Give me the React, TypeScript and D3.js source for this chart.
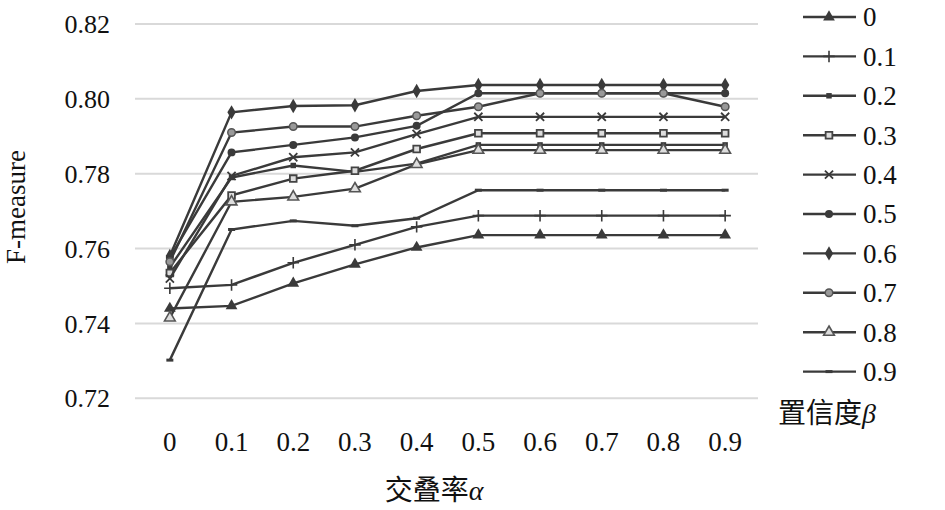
import { useEffect, useRef } from "react";
import * as d3 from "d3";

// overlap rate α (x categories) and confidence β (series)
const ALPHA = ["0", "0.1", "0.2", "0.3", "0.4", "0.5", "0.6", "0.7", "0.8", "0.9"];
const BETA = ["0", "0.1", "0.2", "0.3", "0.4", "0.5", "0.6", "0.7", "0.8", "0.9"];
const Y_TICKS = [0.72, 0.74, 0.76, 0.78, 0.80, 0.82];

const B00 = [0.744, 0.7447, 0.7507, 0.7558, 0.7603, 0.7636, 0.7636, 0.7636, 0.7636, 0.7636];
const B01 = [0.7494, 0.7503, 0.7562, 0.761, 0.7658, 0.7688, 0.7688, 0.7688, 0.7688, 0.7688];
const B02 = [0.755, 0.779, 0.7822, 0.7805, 0.7827, 0.7877, 0.7877, 0.7877, 0.7877, 0.7877];
const B03 = [0.7535, 0.7742, 0.7787, 0.7808, 0.7866, 0.7908, 0.7908, 0.7908, 0.7908, 0.7908];
const B04 = [0.752, 0.7794, 0.7844, 0.7857, 0.7906, 0.7952, 0.7952, 0.7952, 0.7952, 0.7952];
const B05 = [0.7575, 0.7857, 0.7877, 0.7897, 0.7928, 0.8015, 0.8015, 0.8015, 0.8015, 0.8015];
const B06 = [0.758, 0.7964, 0.7981, 0.7983, 0.8021, 0.8037, 0.8037, 0.8037, 0.8037, 0.8037];
const B07 = [0.7565, 0.791, 0.7926, 0.7926, 0.7955, 0.7979, 0.8015, 0.8015, 0.8015, 0.7979];
const B08 = [0.7415, 0.7725, 0.7738, 0.776, 0.7825, 0.7863, 0.7863, 0.7863, 0.7863, 0.7863];
const B09 = [0.7302, 0.7651, 0.7674, 0.7661, 0.7681, 0.7756, 0.7756, 0.7756, 0.7756, 0.7756];
const SERIES = [B00, B01, B02, B03, B04, B05, B06, B07, B08, B09];
const MARKERS = ["tri", "plus", "sq", "sqOpen", "x", "circle", "diamond", "circleOpen", "triOpen", "dash"];

const SERIF = "Liberation Serif, serif";
const CJK = "Noto Sans CJK SC";
const INK = "#3a3a3a";

function marker(g: d3.Selection<SVGGElement, unknown, null, undefined>, kind: string, x: number, y: number) {
  const sym = (type: d3.SymbolType, size: number) => d3.symbol().type(type).size(size)();
  const p = g.append("path").attr("transform", `translate(${x},${y})`);
  switch (kind) {
    case "tri": p.attr("d", sym(d3.symbolTriangle, 60)).attr("fill", INK); break;
    case "plus": p.attr("d", sym(d3.symbolPlus, 45)).attr("fill", "none").attr("stroke", INK).attr("stroke-width", 1.6); break;
    case "sq": p.attr("d", sym(d3.symbolSquare, 30)).attr("fill", INK); break;
    case "sqOpen": p.attr("d", sym(d3.symbolSquare, 45)).attr("fill", "#ddd").attr("stroke", "#444").attr("stroke-width", 1.8); break;
    case "x": p.attr("d", sym(d3.symbolTimes, 45)).attr("fill", "none").attr("stroke", INK).attr("stroke-width", 1.8); break;
    case "circle": p.attr("d", sym(d3.symbolCircle, 50)).attr("fill", INK); break;
    case "diamond": p.attr("d", sym(d3.symbolDiamond, 60)).attr("fill", INK); break;
    case "circleOpen": p.attr("d", sym(d3.symbolCircle, 45)).attr("fill", "#999").attr("stroke", "#555").attr("stroke-width", 1.5); break;
    case "triOpen": p.attr("d", sym(d3.symbolTriangle, 50)).attr("fill", "#ddd").attr("stroke", "#555").attr("stroke-width", 1.6); break;
    case "dash": p.attr("d", "M-3.5,-1.5h7v3h-7z").attr("fill", INK); break;
  }
}

export default function App() {
  const svgRef = useRef<SVGSVGElement>(null);

  useEffect(() => {
    if (!svgRef.current) return;
    const W = 945, H = 510;
    const svg = d3.select(svgRef.current).attr("width", W).attr("height", H);
    svg.selectAll("*").remove();
    svg.append("rect").attr("width", W).attr("height", H).attr("fill", "#fff");

    const x = d3.scaleBand().domain(ALPHA).range([139, 756]).padding(0);
    const cx = (a: string) => x(a)! + x.bandwidth() / 2;
    const y = d3.scaleLinear().domain([0.72, 0.82]).range([398.3, 24]);

    // gridlines + y labels
    Y_TICKS.forEach(t => {
      svg.append("line").attr("x1", 135).attr("x2", 758).attr("y1", y(t)).attr("y2", y(t))
        .attr("stroke", "#d9d9d9").attr("stroke-width", 2);
      svg.append("text").attr("x", 110).attr("y", y(t)).attr("dy", "0.35em").attr("text-anchor", "end")
        .style("font-family", SERIF).attr("font-size", 26).attr("fill", "#111").text(t.toFixed(2));
    });

    // x labels
    ALPHA.forEach(a => {
      svg.append("text").attr("x", cx(a)).attr("y", 451).attr("text-anchor", "middle")
        .style("font-family", SERIF).attr("font-size", 27).attr("fill", "#111").text(a);
    });

    // axis titles
    const xt = svg.append("text").attr("x", 434).attr("y", 500).attr("text-anchor", "middle")
      .attr("font-size", 28).attr("fill", "#111");
    xt.append("tspan").style("font-family", CJK).text("交叠率");
    xt.append("tspan").style("font-family", SERIF).attr("font-style", "italic").text("α");

    svg.append("text").attr("transform", "translate(25,207) rotate(-90)").attr("text-anchor", "middle")
      .style("font-family", SERIF).attr("font-size", 27).attr("fill", "#111").text("F-measure");

    // series
    const line = d3.line<number>().x((_, i) => cx(ALPHA[i])).y(v => y(v));
    const plot = svg.append("g");
    SERIES.forEach((s, k) => {
      plot.append("path").datum(s).attr("d", line).attr("fill", "none")
        .attr("stroke", INK).attr("stroke-width", 2.4);
      s.forEach((v, i) => marker(plot, MARKERS[k], cx(ALPHA[i]), y(v)));
    });

    // legend
    const leg = svg.append("g");
    BETA.forEach((b, k) => {
      const ly = 17 + k * 39.4;
      leg.append("line").attr("x1", 803).attr("x2", 856).attr("y1", ly).attr("y2", ly)
        .attr("stroke", INK).attr("stroke-width", 2.4);
      marker(leg, MARKERS[k], 829, ly);
      leg.append("text").attr("x", 863).attr("y", ly).attr("dy", "0.35em")
        .style("font-family", SERIF).attr("font-size", 27).attr("fill", "#111").text(b);
    });
    const lt = svg.append("text").attr("x", 778).attr("y", 423)
      .attr("font-size", 28).attr("fill", "#111");
    lt.append("tspan").style("font-family", CJK).text("置信度");
    lt.append("tspan").style("font-family", SERIF).attr("font-style", "italic").text("β");
  }, []);

  return (
    <div style={{ position: "absolute", left: 0, top: 0, width: 945, height: 510, background: "#fff" }}>
      <svg ref={svgRef} style={{ display: "block" }} />
    </div>
  );
}
